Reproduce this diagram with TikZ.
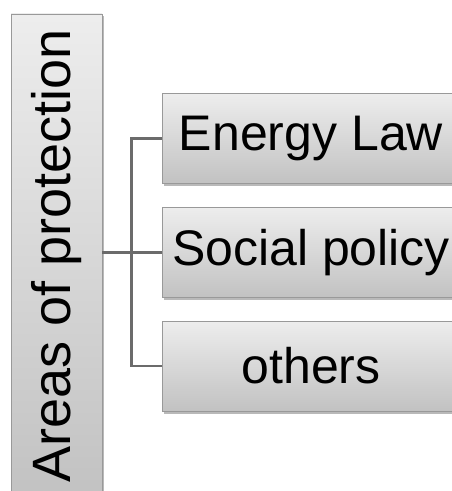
\documentclass[tikz,border=0pt]{standalone}
\usepackage{fontspec}
\setmainfont{Liberation Sans}
\usetikzlibrary{positioning,shadows}
\tikzstyle{box}=[draw=black!40,line width=0.8pt,top color=black!7,bottom color=black!24,
  drop shadow={shadow xshift=1.5pt,shadow yshift=-2.5pt,fill=black!55},inner sep=0pt]
\tikzstyle{link}=[draw=black!58,line width=2.6pt]
\newcommand{\area}[3]{\node[box,minimum width=298pt,minimum height=90pt,
  font=\fontsize{50}{50}\selectfont,#3] (#1) {#2};}
\newcommand{\branch}[2]{\draw[link] (#1) -| (fork) |- (#2);}

\begin{document}
\begin{tikzpicture}[x=1pt,y=1pt,node distance=23pt]
    \clip (0,0) rectangle (452,491);
    % the tall rotated box on the left (its south side faces right)
    \node[box,rotate=90,minimum width=484pt,minimum height=91pt,
      font=\fontsize{54}{54}\selectfont] (areas) at (56.5,235) {Areas of protection};

    \area{energy}{Energy Law}{at={(311,352.5)}}
    \area{social}{Social policy}{below=of energy}
    \area{others}{others}{below=of social}

    \coordinate[left=30pt of social.west] (fork);
    \draw[link] (areas.south |- fork) -- (social.west);
    \branch{energy.west}{others.west}
\end{tikzpicture}
\end{document}
